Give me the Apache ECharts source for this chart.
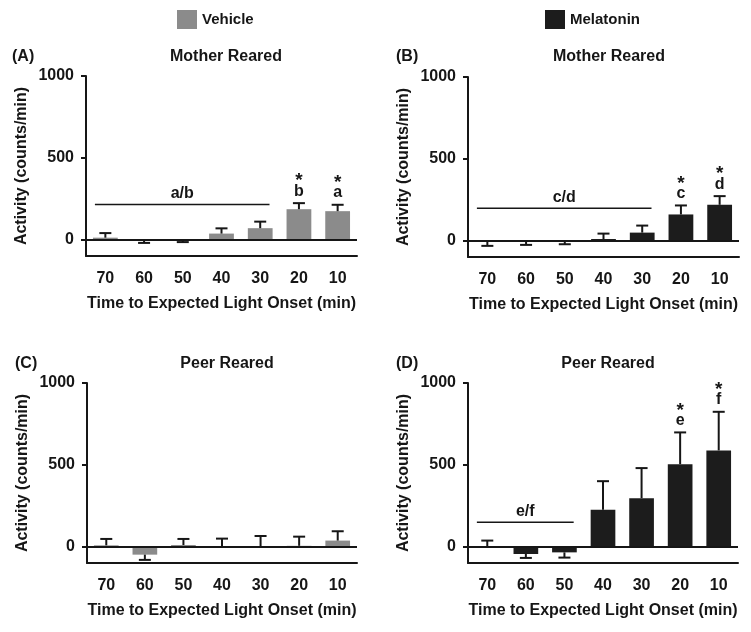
<!DOCTYPE html>
<html>
<head>
<meta charset="utf-8">
<script src="https://cdn.jsdelivr.net/npm/echarts@6/dist/echarts.min.js"></script>
<style>
    html, body { margin: 0; background: #fff; }
    #main { width: 751px; height: 632px; }
</style>
</head>
<body>
<div id="main"></div>
<script>
    var categories = ['70', '60', '50', '40', '30', '20', '10'];
    var yTicks = [0, 500, 1000];

    // (A) vehicle, mother reared
    var meanA = [12, -5, -5, 37, 70, 186, 174];
    var semA = [28, 15, 10, 32, 40, 37, 39];
    var lettersA = ['', '', '', '', '', 'b', 'a'];
    var bracketA = [0, 4, 215, 'a/b'];

    // (B) melatonin, mother reared
    var meanB = [-8, -4, -3, 10, 49, 160, 219];
    var semB = [24, 22, 19, 33, 43, 55, 53];
    var lettersB = ['', '', '', '', '', 'c', 'd'];
    var bracketB = [0, 4, 198, 'c/d'];

    // (C) vehicle, peer reared
    var meanC = [8, -49, 10, 2, 1, 5, 37];
    var semC = [39, 32, 37, 47, 64, 56, 57];
    var lettersC = ['', '', '', '', '', '', ''];

    // (D) melatonin, peer reared
    var meanD = [3, -45, -35, 225, 296, 504, 588];
    var semD = [34, 24, 32, 175, 184, 194, 236];
    var lettersD = ['', '', '', '', '', 'e', 'f'];
    var bracketD = [0, 2, 149, 'e/f'];

    var FONT = 'Liberation Sans, Arial, sans-serif';
    var INK = '#161616';
    var VEHICLE = '#8b8b8b';
    var MELATONIN = '#1c1c1c';

    var panels = [
        { grid: { left: 86, top: 76, width: 271, height: 180 }, name: 'Vehicle', color: VEHICLE, mean: meanA, sem: semA, letters: lettersA, bracket: bracketA },
        { grid: { left: 468, top: 77, width: 271, height: 180 }, name: 'Melatonin', color: MELATONIN, mean: meanB, sem: semB, letters: lettersB, bracket: bracketB },
        { grid: { left: 87, top: 383, width: 270, height: 180 }, name: 'Vehicle', color: VEHICLE, mean: meanC, sem: semC, letters: lettersC, bracket: null },
        { grid: { left: 468, top: 383, width: 270, height: 180 }, name: 'Melatonin', color: MELATONIN, mean: meanD, sem: semD, letters: lettersD, bracket: bracketD }
    ];

    function txt(size) {
        return { fontFamily: FONT, fontWeight: 'bold', fontSize: size, color: INK };
    }

    // one sided error bar (up for positive mean, down for negative) + significance letters
    function errorRender(mean, sem, letters) {
        return function (params, api) {
            var i = params.dataIndex;
            var m = mean[i];
            var end = m < 0 ? m - sem[i] : m + sem[i];
            var p0 = api.coord([i, m]);
            var p1 = api.coord([i, end]);
            var st = { stroke: INK, lineWidth: 2 };
            var children = [
                { type: 'line', shape: { x1: p0[0], y1: p0[1], x2: p1[0], y2: p1[1] }, style: st },
                { type: 'line', shape: { x1: p1[0] - 6, y1: p1[1], x2: p1[0] + 6, y2: p1[1] }, style: st }
            ];
            if (letters[i]) {
                children.push({ type: 'text', x: p1[0], y: p1[1] - 12,
                    style: { text: letters[i], align: 'center', verticalAlign: 'middle', fontFamily: FONT, fontWeight: 'bold', fontSize: 16, fill: INK } });
                children.push({ type: 'text', x: p1[0], y: p1[1] - 22,
                    style: { text: '*', align: 'center', verticalAlign: 'middle', fontFamily: FONT, fontWeight: 'bold', fontSize: 19, fill: INK } });
            }
            return { type: 'group', children: children };
        };
    }

    // horizontal bracket line over a range of categories with its label
    function bracketRender(br) {
        return function (params, api) {
            var band = api.size([1, 0])[0];
            var a = api.coord([br[0], br[2]]);
            var b = api.coord([br[1], br[2]]);
            var x1 = a[0] - band * 0.27, x2 = b[0] + band * 0.24;
            return { type: 'group', children: [
                { type: 'line', shape: { x1: x1, y1: a[1], x2: x2, y2: a[1] }, style: { stroke: INK, lineWidth: 1.5 } },
                { type: 'text', x: (x1 + x2) / 2, y: a[1] - 11,
                    style: { text: br[3], align: 'center', verticalAlign: 'middle', fontFamily: FONT, fontWeight: 'bold', fontSize: 16, fill: INK } }
            ] };
        };
    }

    var grids = [], xAxes = [], yAxes = [], series = [];

    panels.forEach(function (p, k) {
        grids.push(p.grid);
        xAxes.push({
            gridIndex: k,
            type: 'category',
            data: categories,
            axisLine: { onZero: false, lineStyle: { color: INK, width: 2 } },
            axisTick: { alignWithLabel: true, length: 6, lineStyle: { color: INK, width: 2 } },
            axisLabel: Object.assign({ margin: 15 }, txt(16)),
            name: 'Time to Expected Light Onset (min)',
            nameLocation: 'middle',
            nameGap: 40,
            nameTextStyle: txt(16)
        });
        yAxes.push({
            gridIndex: k,
            type: 'value',
            min: -100,
            max: 1000,
            interval: 100,
            splitLine: { show: false },
            axisLine: { show: true, lineStyle: { color: INK, width: 2 } },
            axisTick: { show: true, length: 5, customValues: yTicks, lineStyle: { color: INK, width: 2 } },
            axisLabel: Object.assign({
                margin: 12,
                customValues: yTicks,
                formatter: function (v) { return String(v); }
            }, txt(16)),
            name: 'Activity (counts/min)',
            nameLocation: 'middle',
            nameGap: 56,
            nameTextStyle: txt(16)
        });
        series.push({
            name: p.name,
            type: 'bar',
            xAxisIndex: k,
            yAxisIndex: k,
            barWidth: '64%',
            itemStyle: { color: p.color },
            data: p.mean,
            markLine: {
                silent: true,
                symbol: 'none',
                label: { show: false },
                lineStyle: { color: INK, width: 2, type: 'solid' },
                data: [{ yAxis: 0 }]
            }
        });
        series.push({
            type: 'custom',
            xAxisIndex: k,
            yAxisIndex: k,
            renderItem: errorRender(p.mean, p.sem, p.letters),
            data: p.mean.map(function (v, i) { return [i, v]; }),
            z: 5
        });
        if (p.bracket) {
            series.push({
                type: 'custom',
                xAxisIndex: k,
                yAxisIndex: k,
                renderItem: bracketRender(p.bracket),
                data: [[p.bracket[0], p.bracket[2]]],
                z: 5
            });
        }
    });

    var chart = echarts.init(document.getElementById('main'));
    var option = {
        animation: false,
        backgroundColor: '#fff',
        title: [
            { text: '(A)', left: 7, top: 44, textStyle: txt(16) },
            { text: 'Mother Reared', left: 221, top: 44, textAlign: 'center', textStyle: txt(16) },
            { text: '(B)', left: 391, top: 44, textStyle: txt(16) },
            { text: 'Mother Reared', left: 604, top: 44, textAlign: 'center', textStyle: txt(16) },
            { text: '(C)', left: 10, top: 351, textStyle: txt(16) },
            { text: 'Peer Reared', left: 222, top: 351, textAlign: 'center', textStyle: txt(16) },
            { text: '(D)', left: 391, top: 351, textStyle: txt(16) },
            { text: 'Peer Reared', left: 603, top: 351, textAlign: 'center', textStyle: txt(16) }
        ],
        legend: [
            { data: ['Vehicle'], left: 177, top: 10, padding: 0, icon: 'rect', itemWidth: 20, itemHeight: 19, itemGap: 5, textStyle: txt(15), selectedMode: false },
            { data: ['Melatonin'], left: 545, top: 10, padding: 0, icon: 'rect', itemWidth: 20, itemHeight: 19, itemGap: 5, textStyle: txt(15), selectedMode: false }
        ],
        grid: grids,
        xAxis: xAxes,
        yAxis: yAxes,
        series: series
    };
    chart.setOption(option);
</script>
</body>
</html>
